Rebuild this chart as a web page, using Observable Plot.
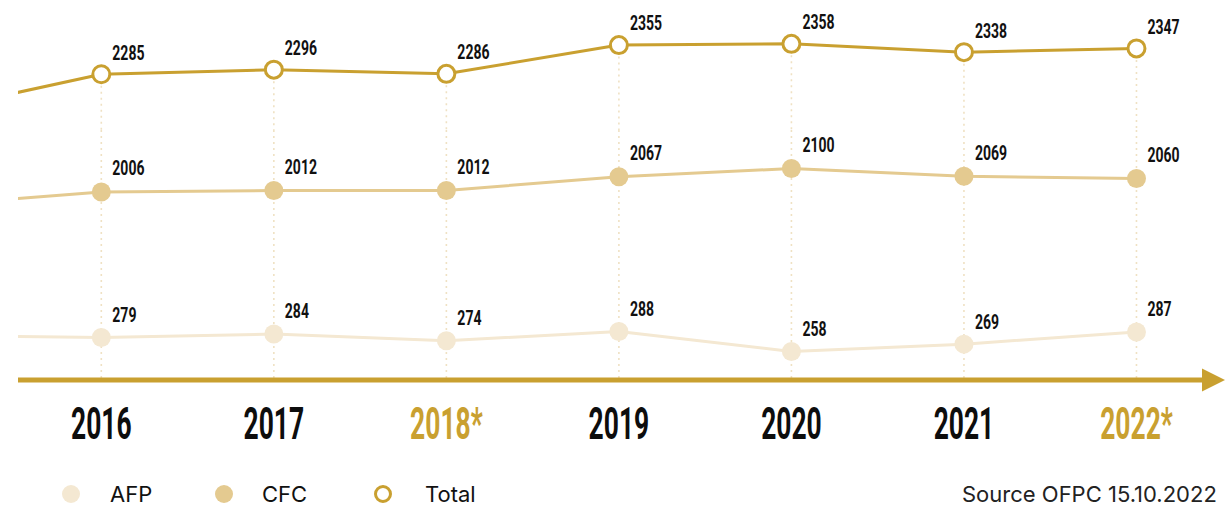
<!DOCTYPE html>
<html>
<head>
<meta charset="utf-8">
<script src="https://cdn.jsdelivr.net/npm/d3@7"></script>
<script src="https://cdn.jsdelivr.net/npm/@observablehq/plot@0.6"></script>
<style>
  body { margin: 0; background: #fff; }
  #wrap { position: relative; width: 1225px; height: 506px; overflow: hidden; background: #fff; }
  #wrap > svg { position: absolute; left: 0; overflow: visible; background: transparent !important; max-width: none !important; }
  .leg { position: absolute; font-family: Inter, "Noto Sans", sans-serif; font-size: 22px; color: #111; line-height: 1; }
  .sw { position: absolute; border-radius: 50%; box-sizing: border-box; }
</style>
</head>
<body>
<div id="wrap"></div>
<script>
// ---- data ----
const years = [2015, 2016, 2017, 2018, 2019, 2020, 2021, 2022];
const yearLabels = ["2015", "2016", "2017", "2018*", "2019", "2020", "2021", "2022*"];
const provisional = [false, false, false, true, false, false, false, true];
const totalValues = [2195, 2285, 2296, 2286, 2355, 2358, 2338, 2347];
const cfcValues = [1952, 2006, 2012, 2012, 2067, 2100, 2069, 2060];
const afpValues = [282, 279, 284, 274, 288, 258, 269, 287];
const seriesNames = ["AFP", "CFC", "Total"];
const sourceText = "Source OFPC 15.10.2022";

// ---- style ----
const GOLD = "#c9a030";
const CFC_C = "#e4ca90";
const AFP_C = "#f4e8d2";
const RULE_C = "#efe1c3";
const numFont = "Roboto, 'Liberation Sans', sans-serif";
const W = 1225;
const xDomain = [2015.52, 2022.516];

const wrap = document.getElementById("wrap");

// condense text glyphs horizontally (the reference uses a condensed display face)
function condense(svg, sx) {
  svg.querySelectorAll("text").forEach(t => {
    const len = t.getComputedTextLength();
    if (len > 0) {
      t.setAttribute("textLength", (len * sx).toFixed(2));
      t.setAttribute("lengthAdjust", "spacingAndGlyphs");
    }
  });
}

function seriesPlot({values, top, height, yDomain, color, hollow, ruleFromPoint, dy}) {
  const data = years.map((year, i) => ({year, value: values[i]}));
  const shown = data.filter(d => d.year >= 2016);
  const svg = Plot.plot({
    width: W, height,
    marginLeft: 18, marginRight: 0, marginTop: 0, marginBottom: 0,
    x: {type: "linear", domain: xDomain, axis: null},
    y: {domain: yDomain, axis: null},
    style: {background: "transparent", overflow: "visible"},
    marks: [
      ruleFromPoint
        ? Plot.ruleX(shown, {x: "year", y1: "value", y2: yDomain[0], stroke: RULE_C, strokeWidth: 1.6, strokeDasharray: "2 4"})
        : Plot.ruleX(shown, {x: "year", stroke: RULE_C, strokeWidth: 1.6, strokeDasharray: "2 4"}),
      Plot.line(data, {x: "year", y: "value", stroke: color, strokeWidth: 3, clip: true}),
      Plot.dot(shown, {x: "year", y: "value", r: hollow ? 8.5 : 9.5,
        fill: hollow ? "white" : color, stroke: hollow ? color : "none", strokeWidth: hollow ? 3 : 0}),
      Plot.text(shown, {x: "year", y: "value", text: d => String(d.value), dx: 11, dy,
        textAnchor: "start", fontFamily: numFont, fontWeight: "bold", fontSize: 20, fill: "#111"})
    ]
  });
  svg.style.top = top + "px";
  wrap.appendChild(svg);
  condense(svg, 0.7);
}

seriesPlot({values: totalValues, top: 0, height: 130, yDomain: [2150, 2462], color: GOLD, hollow: true, ruleFromPoint: true, dy: -21});
seriesPlot({values: cfcValues, top: 130, height: 120, yDomain: [1772, 2252], color: CFC_C, hollow: false, ruleFromPoint: false, dy: -23});
seriesPlot({values: afpValues, top: 250, height: 128, yDomain: [217.7, 408.8], color: AFP_C, hollow: false, ruleFromPoint: false, dy: -22});

// axis with arrow and year labels
const yearData = years.map((year, i) => ({year, label: yearLabels[i], prov: provisional[i]})).filter(d => d.year >= 2016);
const axisSvg = Plot.plot({
  width: W, height: 92,
  marginLeft: 18, marginRight: 0, marginTop: 0, marginBottom: 0,
  x: {type: "linear", domain: xDomain, axis: null},
  style: {background: "transparent", overflow: "visible"},
  marks: [
    (index, scales, values, dims) => {
      const g = d3.create("svg:g");
      const y0 = 2;
      g.append("line").attr("x1", dims.marginLeft).attr("x2", dims.width - 20)
        .attr("y1", y0).attr("y2", y0).attr("stroke", GOLD).attr("stroke-width", 5);
      g.append("polygon")
        .attr("points", `${dims.width - 23},${y0 - 11.5} ${dims.width},${y0} ${dims.width - 23},${y0 + 11.5}`)
        .attr("fill", GOLD);
      return g.node();
    },
    Plot.text(yearData, {x: "year", frameAnchor: "middle", text: "label",
      fill: d => d.prov ? GOLD : "#0d0d0d", fontFamily: numFont, fontWeight: "bold", fontSize: 44})
  ]
});
axisSvg.style.top = "378px";
wrap.appendChild(axisSvg);
condense(axisSvg, 0.6);

// legend
const legendItems = [
  {name: seriesNames[0], cx: 71, tx: 110, fill: AFP_C, stroke: null},
  {name: seriesNames[1], cx: 224, tx: 262, fill: CFC_C, stroke: null},
  {name: seriesNames[2], cx: 383, tx: 425, fill: "#fff", stroke: GOLD}
];
legendItems.forEach(it => {
  const sw = document.createElement("div");
  sw.className = "sw";
  sw.style.left = (it.cx - 9) + "px";
  sw.style.top = (494 - 9) + "px";
  sw.style.width = "18px"; sw.style.height = "18px";
  sw.style.background = it.fill;
  if (it.stroke) sw.style.border = `3px solid ${it.stroke}`;
  wrap.appendChild(sw);
  const t = document.createElement("div");
  t.className = "leg";
  t.style.left = it.tx + "px";
  t.style.top = "483px";
  t.textContent = it.name;
  wrap.appendChild(t);
});
const src = document.createElement("div");
src.className = "leg";
src.style.left = "962px";
src.style.top = "483px";
src.style.whiteSpace = "nowrap";
src.style.color = "#222";
src.textContent = sourceText;
wrap.appendChild(src);
</script>
</body>
</html>
